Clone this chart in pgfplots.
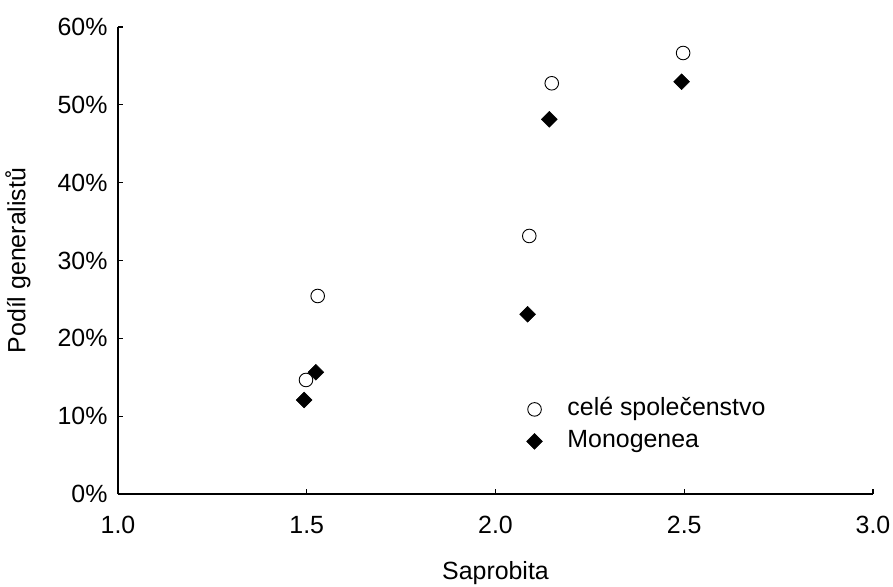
\documentclass[border=0pt]{standalone}
\usepackage{pgfplots}
\pgfplotsset{compat=1.18}
\usepackage{fontspec}
\setmainfont{Liberation Sans}
\begin{document}
\begin{tikzpicture}
\path[use as bounding box] (-118bp,-93bp) rectangle (775bp,494bp);
\begin{axis}[
  at={(0,0)}, anchor=origin,
  scale only axis, width=755bp, height=467bp,
  xmin=1, xmax=3, ymin=0, ymax=60,
  axis x line*=bottom, axis y line*=left,
  axis line style={line width=1.2bp},
  tick style={line width=1.2bp, black},
  tick align=inside, major tick length=5bp,
  /pgf/number format/assume math mode=true,
  xtick={1,1.5,2,2.5,3},
  xticklabel={\pgfmathprintnumber[fixed,fixed zerofill,precision=1]{\tick}},
  ytick={0,10,20,30,40,50,60},
  yticklabel={\pgfmathprintnumber[fixed,precision=0]{\tick}\%},
  font=\fontsize{25}{29}\selectfont,
  xticklabel style={anchor=center, yshift=-31bp},
  yticklabel style={anchor=east, xshift=-7bp},
  xlabel={Saprobita},
  ylabel={Podíl generalistů},
  xlabel style={at={(axis description cs:0.5,0)}, anchor=center, yshift=-79bp},
  ylabel style={at={(axis description cs:-0.1325,0.5)}, anchor=center},
  legend style={draw=none, fill=none, at={(rel axis cs:0.7027,0.1469)}, anchor=center,
    nodes={inner sep=5bp, text height=17bp, text depth=5bp},
    row sep=0bp,
    /tikz/every odd column/.append style={column sep=20bp}},
  legend cell align=left,
]
\addplot[only marks, mark=o, mark size=6.8bp, mark options={line width=0.9bp, fill=white, draw=black}]
 coordinates {(1.498,14.65) (1.529,25.44) (2.0895,33.15) (2.149,52.77) (2.497,56.66)};
\addlegendentry{celé společenstvo}
\addplot[only marks, mark=square*, mark size=5.6bp, mark options={rotate=45, fill=black, draw=black, line width=0.5bp}]
 coordinates {(1.493,12.08) (1.524,15.64) (2.085,23.09) (2.1425,48.14) (2.493,52.97)};
\addlegendentry{Monogenea}
\end{axis}
\end{tikzpicture}
\end{document}
